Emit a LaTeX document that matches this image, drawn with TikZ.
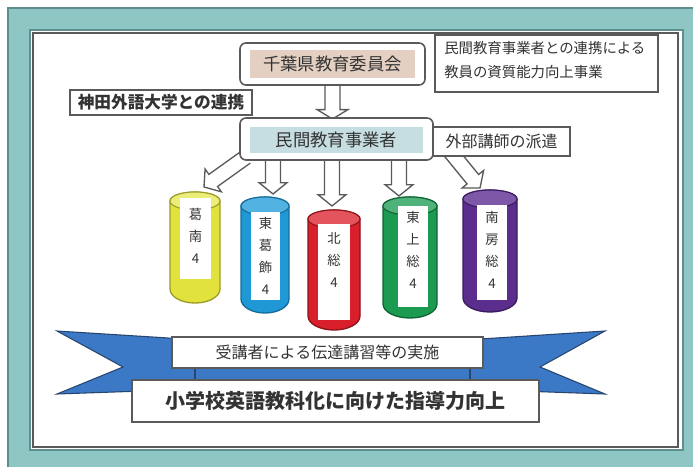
\documentclass[tikz,border=0pt]{standalone}
\usepackage{fontspec}
\newfontfamily\jp{Noto Sans CJK JP}
\usetikzlibrary{calc}
\definecolor{tealbg}{HTML}{8EC6C4}
\definecolor{tealdk}{HTML}{5E8E8F}
\definecolor{boxgray}{HTML}{5A5A5A}
\definecolor{txtc}{HTML}{333333}
\definecolor{tanfill}{HTML}{E4D0C2}
\definecolor{bluefill}{HTML}{C6DDE1}
\definecolor{ribbon}{HTML}{3B79C6}
\definecolor{ribbondk}{HTML}{26466F}
\definecolor{cyY}{HTML}{E2E23C}\definecolor{cyYd}{HTML}{9C9C2C}\definecolor{cyYl}{HTML}{ECEC78}
\definecolor{cyB}{HTML}{1F98D5}\definecolor{cyBd}{HTML}{166C9C}\definecolor{cyBl}{HTML}{52B2E2}
\definecolor{cyR}{HTML}{D91F2C}\definecolor{cyRd}{HTML}{8E1419}\definecolor{cyRl}{HTML}{E4545D}
\definecolor{cyG}{HTML}{1C9A50}\definecolor{cyGd}{HTML}{0F6433}\definecolor{cyGl}{HTML}{4FB27A}
\definecolor{cyP}{HTML}{5B2E8E}\definecolor{cyPd}{HTML}{3A1B5E}\definecolor{cyPl}{HTML}{7E58A8}
\tikzset{
  box/.style={draw=boxgray, line width=1.2pt, rounded corners=4.5pt, fill=white, inner sep=0pt},
  sqbox/.style={draw=boxgray, line width=1pt, fill=white, inner sep=0pt, text=txtc},
  barrow/.style={draw=boxgray, line width=1pt, fill=white, line join=miter},
  cylbox/.style={inner sep=0pt, outer sep=0pt},
  labbox/.style={fill=white, inner sep=0pt},
  cyltext/.style={font=\jp\fontsize{10}{16.5}\selectfont, align=center, text=txtc, inner sep=0pt},
}
\newcommand\blockarrow[5]{%
  \path ($(#2)!#5!(#1)$) coordinate (bah);
  \draw[barrow] ($(#1)!#3!90:(#2)$) -- ($(bah)!#3!90:(#2)$) -- ($(bah)!#4!90:(#2)$) -- (#2)
     -- ($(bah)!#4!-90:(#2)$) -- ($(bah)!#3!-90:(#2)$) -- ($(#1)!#3!-90:(#2)$);
}
\begin{document}
\begin{tikzpicture}[x=0.75pt, y=-0.75pt]
\useasboundingbox (0,0) rectangle (693,467);
% frame
\fill[white] (0,0) rectangle (693,467);
\fill[tealbg] (8,8) rectangle (693,467);
\draw[tealdk, line width=1.5pt] (8,467) -- (8,8) -- (693,8);
\filldraw[fill=white, draw=tealdk, line width=1pt] (30,30) rectangle (683,450);
\draw[boxgray, line width=0.9pt] (33,33) rectangle (678,447);

% arrows (drawn first, boxes cover their tails)
\coordinate (a0s) at (332.5,80);  \coordinate (a0e) at (332.5,119);
\coordinate (a1s) at (246,157);  \coordinate (a1e) at (204,187);
\coordinate (a2s) at (273,150);  \coordinate (a2e) at (273,194);
\coordinate (a3s) at (332,150);  \coordinate (a3e) at (332,206);
\coordinate (a4s) at (399,150);  \coordinate (a4e) at (399,196);
\coordinate (a5s) at (449,150);  \coordinate (a5e) at (480,188);
\blockarrow{a0s}{a0e}{5.6pt}{11.5pt}{7pt}
\blockarrow{a1s}{a1e}{5.6pt}{10.5pt}{8.5pt}
\blockarrow{a2s}{a2e}{5.6pt}{10.5pt}{8.5pt}
\blockarrow{a3s}{a3e}{5.6pt}{10.5pt}{8.5pt}
\blockarrow{a4s}{a4e}{5.6pt}{10.5pt}{8.5pt}
\blockarrow{a5s}{a5e}{5.6pt}{10.5pt}{8.5pt}

% top boxes
\node[box, minimum width=138.75pt, minimum height=31.5pt] (chiba) at (332.5,64) {};
\node[fill=tanfill, minimum width=123.75pt, minimum height=21pt, inner sep=0pt, text=txtc,
      font=\jp\fontsize{13}{15}\selectfont] (chibain) at (chiba.center) {千葉県教育委員会};
\node[box, minimum width=144.75pt, minimum height=31.5pt] (minkan) at (336.5,139) {};
\node[fill=bluefill, minimum width=129.75pt, minimum height=20pt, inner sep=0pt, text=txtc,
      font=\jp\fontsize{13}{15}\selectfont] (minkanin) at (336.5,140) {民間教育事業者};

\node[sqbox, minimum width=167.25pt, minimum height=42.75pt] (rtbox) at (546.5,63.5) {};
\node[text=txtc, align=left, inner sep=0pt, anchor=west, font=\jp\fontsize{10.8}{18}\selectfont]
   (rttext) at (444,60) {民間教育事業者との連携による\\教員の資質能力向上事業};

\node[sqbox, minimum width=136.5pt, minimum height=18.75pt, font=\jp\bfseries\fontsize{12.5}{14}\selectfont]
   (kanda) at (161,102.5) {神田外語大学との連携};

\node[sqbox, minimum width=102.75pt, minimum height=21.75pt, font=\jp\fontsize{12}{14}\selectfont]
   (gaibu) at (501.5,141.5) {外部講師の派遣};

% cylinders
\foreach \i/\cx/\r/\yt/\yb/\body/\edge/\topc in
  {1/195/25/192/303/cyY/cyYd/cyYl,
   2/265/24/197/313/cyB/cyBd/cyBl,
   3/334/26/210/330/cyR/cyRd/cyRl,
   4/410/27/197/318/cyG/cyGd/cyGl,
   5/490/27/190/312/cyP/cyPd/cyPl}{
  \node[cylbox, minimum width={2*\r*0.75pt}, minimum height={(\yb-\yt)*0.75pt}] (cyl\i) at (\cx,{(\yt+\yb)/2}) {};
  \filldraw[fill=\body, draw=\edge, line width=1pt]
     ($(cyl\i.north west)+(0,9)$) -- ($(cyl\i.south west)+(0,-14)$)
     arc[start angle=180, end angle=360, x radius={\r*0.75pt}, y radius=10.5pt]
     -- ($(cyl\i.north east)+(0,9)$)
     arc[start angle=0, end angle=180, x radius={\r*0.75pt}, y radius=6.75pt] -- cycle;
  \filldraw[fill=\topc, draw=\edge, line width=0.8pt] ($(cyl\i.north)+(0,9)$) ellipse[x radius={\r*0.75pt}, y radius=6.75pt];
}
\node[labbox, minimum width=23.25pt, minimum height=60.75pt] (lab1) at (195.5,238.5) {};
\node[labbox, minimum width=21.75pt, minimum height=66pt] (lab2) at (265.5,256) {};
\node[labbox, minimum width=24pt, minimum height=72pt] (lab3) at (334,272) {};
\node[labbox, minimum width=22.5pt, minimum height=75.75pt] (lab4) at (413,256.5) {};
\node[labbox, minimum width=22.5pt, minimum height=71.25pt] (lab5) at (492,252.5) {};
\node[cyltext] (t1) at (195.5,236) {葛\\南\\4};
\node[cyltext] (t2) at (265.5,256) {東\\葛\\飾\\4};
\node[cyltext] (t3) at (334,260) {北\\総\\4};
\node[cyltext] (t4) at (413,250) {東\\上\\総\\4};
\node[cyltext] (t5) at (492,250) {南\\房\\総\\4};

% ribbon
\filldraw[fill=ribbon, draw=ribbondk, line width=0.8pt, line join=miter]
  (57,331) -- (200,340) -- (200,389) -- (57,394) -- (123,367) -- cycle;
\filldraw[fill=ribbon, draw=ribbondk, line width=0.8pt, line join=miter]
  (605,331) -- (465,340) -- (465,389) -- (605,394) -- (540,367) -- cycle;
\filldraw[fill=ribbon, draw=ribbondk, line width=0.8pt] (195,340) rectangle (470,389);
\node[sqbox, minimum width=233.25pt, minimum height=23.25pt, font=\jp\fontsize{12}{14}\selectfont]
  (jukou) at (327.5,352.5) {受講者による伝達講習等の実施};
\node[sqbox, minimum width=305.25pt, minimum height=31.5pt, font=\jp\bfseries\fontsize{15}{17}\selectfont]
  (shogaku) at (335.5,401) {小学校英語教科化に向けた指導力向上};
\end{tikzpicture}
\end{document}
